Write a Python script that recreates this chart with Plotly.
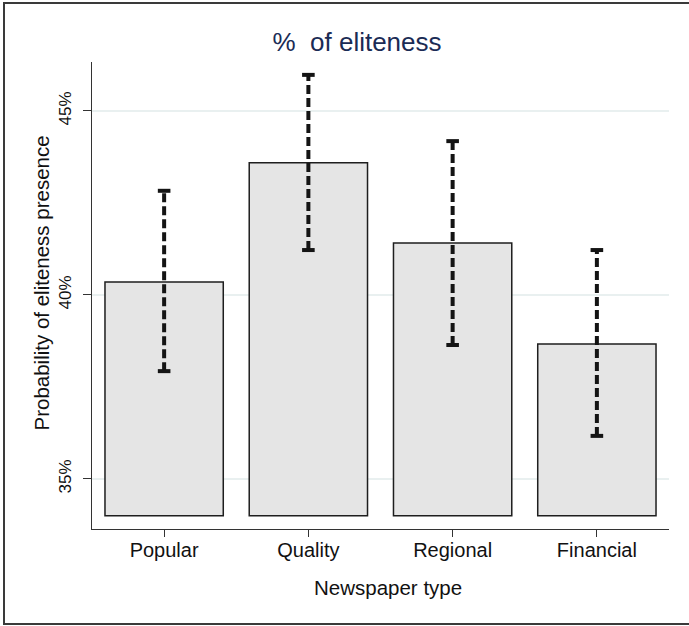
import plotly.graph_objects as go

# Predicted probability of eliteness presence by newspaper type
categories = ["Popular", "Quality", "Regional", "Financial"]
prob_pct = [40.35, 43.59, 41.41, 38.67]
ci_low = [37.93, 41.22, 38.64, 36.17]
ci_high = [42.83, 45.98, 44.18, 41.22]
y_tick_vals = [35, 40, 45]
y_tick_text = ["35%", "40%", "45%"]
bar_base = 34

xpos = list(range(len(categories)))
FONT = "Liberation Sans, Arial, Helvetica, sans-serif"

fig = go.Figure()

fig.add_trace(go.Bar(
    x=xpos,
    y=[v - bar_base for v in prob_pct],
    base=bar_base,
    width=0.82,
    marker=dict(color="#e5e5e5", line=dict(color="#1e1e1e", width=1.5)),
    showlegend=False,
    hoverinfo="skip",
))

# Dashed confidence intervals with small caps at both ends
for x, lo, hi in zip(xpos, ci_low, ci_high):
    fig.add_trace(go.Scatter(
        x=[x, x], y=[lo, hi], mode="lines",
        line=dict(color="#141414", width=4, dash="9px,4px"),
        showlegend=False, hoverinfo="skip",
    ))
    fig.add_trace(go.Scatter(
        x=[x, x], y=[lo, hi], mode="markers",
        marker=dict(symbol="line-ew", size=9,
                    line=dict(color="#141414", width=4)),
        showlegend=False, hoverinfo="skip",
    ))

fig.update_layout(
    width=689, height=626,
    margin=dict(l=92, r=20, t=62, b=97),
    paper_bgcolor="white", plot_bgcolor="white",
    font=dict(family=FONT, size=20, color="#111111"),
    title=dict(text="%\u00a0 of eliteness", x=357 / 689, xanchor="center",
               xref="container", y=1 - 42 / 626, yanchor="middle",
               font=dict(family=FONT, size=26, color="#1a2b55")),
)

fig.update_xaxes(
    range=[-0.5, 3.5],
    tickvals=xpos, ticktext=categories,
    ticks="outside", ticklen=7, tickwidth=1, tickcolor="#333333",
    ticklabelstandoff=-4,
    showline=True, linecolor="#333333", linewidth=1.2,
    showgrid=False, zeroline=False,
    tickfont=dict(family=FONT, size=20),
)

fig.update_yaxes(
    range=[33.64, 46.33],
    tickvals=y_tick_vals, ticktext=y_tick_text, tickangle=-90,
    ticks="outside", ticklen=8, tickwidth=1, tickcolor="#333333",
    ticklabelstandoff=5,
    showline=True, linecolor="#333333", linewidth=1.2,
    showgrid=True, gridcolor="#e9f0f0", gridwidth=1.5,
    zeroline=False,
    tickfont=dict(family=FONT, size=17),
)

# Axis titles
fig.add_annotation(text="Probability of eliteness presence",
                   xref="paper", yref="paper",
                   x=(41 - 92) / 577, y=(529 - 283.5) / 467,
                   xanchor="center", yanchor="middle", textangle=-90,
                   showarrow=False, font=dict(family=FONT, size=20.5))
fig.add_annotation(text="Newspaper type",
                   xref="paper", yref="paper",
                   x=(387.5 - 92) / 577, y=(529 - 587) / 467,
                   xanchor="center", yanchor="middle",
                   showarrow=False, font=dict(family=FONT, size=20.5))

# Outer frame around the whole graphic
fig.add_shape(type="rect", xref="paper", yref="paper",
              x0=(4 - 92) / 577, x1=(700 - 92) / 577,
              y0=(529 - 624) / 467, y1=(529 - 3) / 467,
              line=dict(color="#3a3a3a", width=2), layer="below")

fig.write_html("out.html")
